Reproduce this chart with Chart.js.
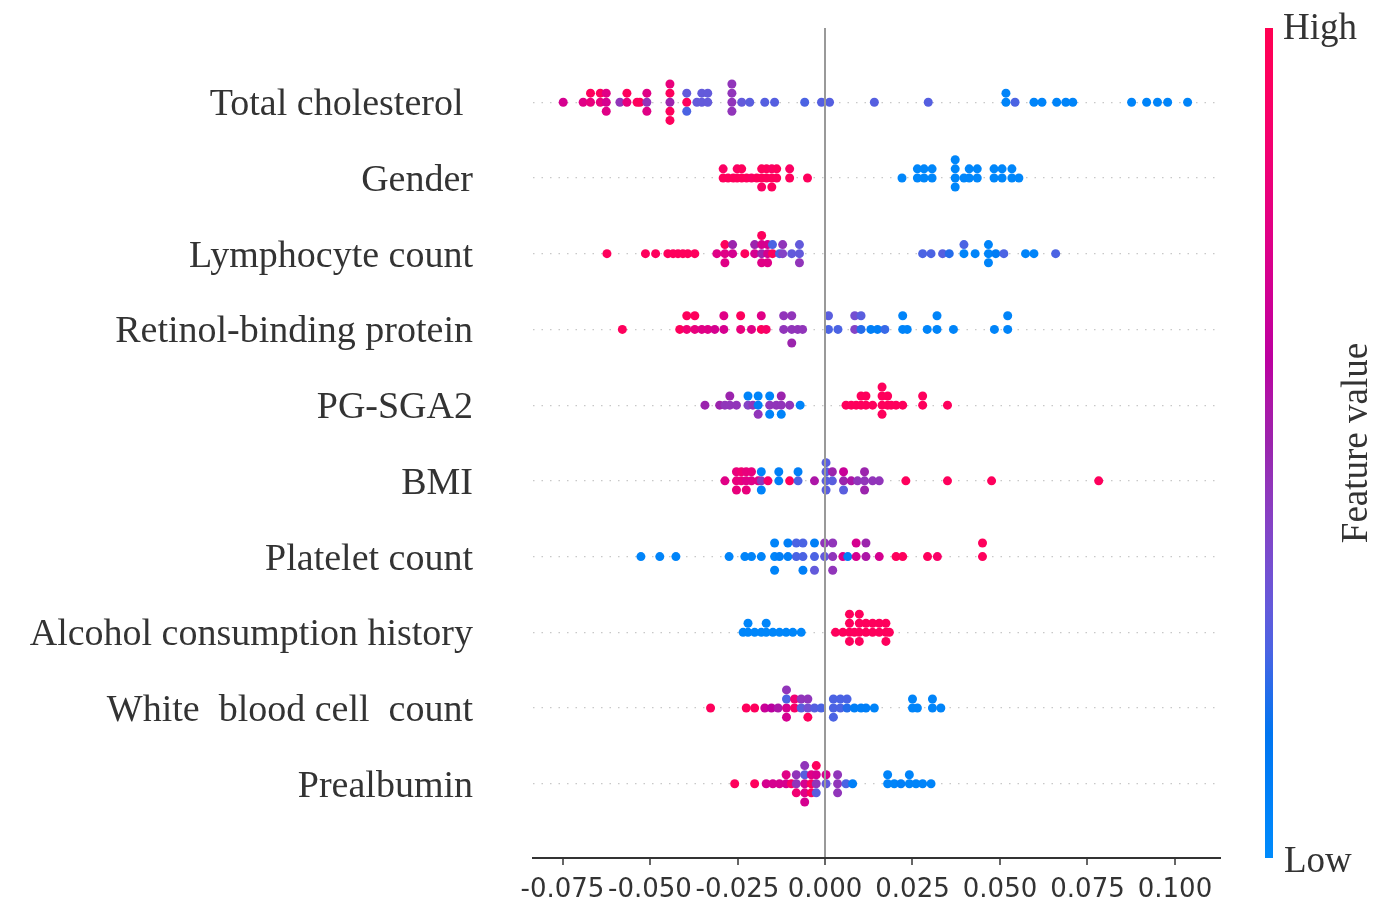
<!DOCTYPE html>
<html>
<head>
<meta charset="utf-8">
<script src="https://cdn.jsdelivr.net/npm/chart.js@4"></script>
<style>
  body { margin: 0; background: #fff; }
  #wrap { width: 1392px; height: 912px; }
</style>
</head>
<body>
<div id="wrap"><canvas id="shapChart"></canvas></div>
<script>
// feature names, top to bottom
const features = ['Total cholesterol ', 'Gender', 'Lymphocyte count', 'Retinol-binding protein', 'PG-SGA2',
  'BMI', 'Platelet count', 'Alcohol consumption history', 'White  blood cell  count', 'Prealbumin'];
const xTicks = [-0.075, -0.05, -0.025, 0, 0.025, 0.05, 0.075, 0.1];

// SHAP values per sample (equal values stack into one column) and normalised feature values (0 low .. 1 high)
const cholShap = [-0.0748, -0.0691, -0.0670, -0.0670, -0.0642, -0.0642, -0.0625, -0.0625, -0.0625, -0.0586,
  -0.0566, -0.0566, -0.0537, -0.0529, -0.0509, -0.0509, -0.0509, -0.0443, -0.0443, -0.0443, -0.0443, -0.0443,
  -0.0395, -0.0395, -0.0395, -0.0366, -0.0352, -0.0352, -0.0335, -0.0335, -0.0266, -0.0266, -0.0266, -0.0266,
  -0.0238, -0.0215, -0.0172, -0.0144, -0.0058, -0.0010, 0.0013, 0.0141, 0.0295, 0.0517, 0.0517, 0.0543,
  0.0597, 0.0620, 0.0662, 0.0688, 0.0708, 0.0876, 0.0919, 0.0950, 0.0979, 0.1036];
const cholValue = [0.7, 0.75, 0.8, 0.95, 0.8, 0.95, 0.7, 0.75, 0.75, 0.45,
  0.8, 0.95, 0.95, 0.95, 0.45, 0.75, 0.75, 0.5, 0.95, 0.95, 0.8, 0.95,
  0.95, 0.3, 0.25, 0.3, 0.3, 0.3, 0.3, 0.3, 0.45, 0.45, 0.45, 0.45,
  0.3, 0.28, 0.27, 0.27, 0.25, 0.27, 0.27, 0.27, 0.27, 0.05, 0.05, 0.25,
  0.05, 0.05, 0.05, 0.05, 0.05, 0.05, 0.05, 0.05, 0.05, 0.05];

const genderShap = [-0.0291, -0.0291, -0.0277, -0.0262, -0.0251, -0.0251, -0.0238, -0.0238, -0.0224, -0.0210,
  -0.0195, -0.0181, -0.0181, -0.0181, -0.0167, -0.0167, -0.0152, -0.0152, -0.0152, -0.0138, -0.0138,
  -0.0101, -0.0101, -0.0050, 0.0220, 0.0264, 0.0264, 0.0283, 0.0283, 0.0306, 0.0306, 0.0372, 0.0372,
  0.0372, 0.0372, 0.0397, 0.0412, 0.0412, 0.0435, 0.0435, 0.0483, 0.0483, 0.0506, 0.0506, 0.0534, 0.0534, 0.0554];
const genderValue = [0.95, 0.92, 0.95, 0.95, 0.95, 0.92, 0.95, 0.95, 0.95, 0.92,
  0.95, 0.95, 0.95, 0.92, 0.95, 0.95, 0.95, 0.92, 0.95, 0.95, 0.95,
  0.95, 0.92, 0.95, 0.03, 0.03, 0.03, 0.03, 0.03, 0.03, 0.03, 0.03, 0.03,
  0.03, 0.03, 0.03, 0.03, 0.03, 0.03, 0.03, 0.03, 0.03, 0.03, 0.03, 0.03, 0.03, 0.03];

const lymphShap = [-0.0623, -0.0513, -0.0484, -0.0449, -0.0434, -0.0420, -0.0406, -0.0392, -0.0372, -0.0309,
  -0.0286, -0.0286, -0.0286, -0.0264, -0.0264, -0.0229, -0.0201, -0.0201, -0.0181, -0.0181, -0.0181, -0.0181,
  -0.0164, -0.0164, -0.0164, -0.0150, -0.0150, -0.0130, -0.0121, -0.0121, -0.0095, -0.0073, -0.0073, -0.0073,
  0.0279, 0.0303, 0.0336, 0.0355, 0.0397, 0.0397, 0.0429, 0.0467, 0.0467, 0.0467, 0.0488, 0.0511,
  0.0573, 0.0597, 0.0659];
const lymphValue = [0.95, 0.95, 0.95, 0.95, 0.95, 0.95, 0.95, 0.95, 0.95, 0.75,
  0.75, 0.95, 0.75, 0.7, 0.5, 0.95, 0.7, 0.5, 0.5, 0.7, 0.75, 0.95,
  0.7, 0.7, 0.75, 0.95, 0.25, 0.25, 0.4, 0.45, 0.3, 0.3, 0.3, 0.45,
  0.25, 0.25, 0.27, 0.2, 0.05, 0.25, 0.05, 0.05, 0.05, 0.05, 0.1, 0.25,
  0.05, 0.05, 0.25];

const retinolShap = [-0.0579, -0.0415, -0.0395, -0.0395, -0.0372, -0.0372, -0.0352, -0.0335, -0.0315,
  -0.0289, -0.0289, -0.0241, -0.0241, -0.0210, -0.0182, -0.0182, -0.0168, -0.0118, -0.0118,
  -0.0095, -0.0095, -0.0095, -0.0078, -0.0064, 0.0010, 0.0010, 0.0037, 0.0085, 0.0085, 0.0103, 0.0103,
  0.0131, 0.0150, 0.0171, 0.0222, 0.0222, 0.0235, 0.0292, 0.0320, 0.0320, 0.0367, 0.0484, 0.0522, 0.0522];
const retinolValue = [0.95, 0.95, 0.85, 0.95, 0.8, 0.95, 0.75, 0.75, 0.7,
  0.7, 0.75, 0.8, 0.95, 0.75, 0.95, 0.75, 0.9, 0.45, 0.45,
  0.45, 0.45, 0.5, 0.45, 0.45, 0.25, 0.28, 0.25, 0.4, 0.35, 0.2, 0.28,
  0.08, 0.08, 0.22, 0.05, 0.05, 0.05, 0.05, 0.05, 0.05, 0.05, 0.05, 0.05, 0.05];

const pgsgaShap = [-0.0343, -0.0301, -0.0286, -0.0272, -0.0272, -0.0253, -0.0220, -0.0220, -0.0206,
  -0.0191, -0.0191, -0.0191, -0.0158, -0.0158, -0.0158, -0.0139, -0.0125, -0.0125, -0.0125, -0.0101, -0.0071,
  0.0060, 0.0075, 0.0089, 0.0103, 0.0103, 0.0117, 0.0117, 0.0136, 0.0163, 0.0163, 0.0163, 0.0163,
  0.0179, 0.0179, 0.0189, 0.0203, 0.0222, 0.0279, 0.0279, 0.0350];
const pgsgaValue = [0.5, 0.5, 0.45, 0.45, 0.5, 0.45, 0.4, 0.05, 0.45,
  0.08, 0.05, 0.45, 0.45, 0.05, 0.05, 0.45, 0.45, 0.5, 0.05, 0.45, 0.05,
  0.95, 0.95, 0.95, 0.95, 0.95, 0.95, 0.95, 0.95, 0.95, 0.95, 0.95, 0.95,
  0.95, 0.95, 0.95, 0.95, 0.95, 0.95, 0.95, 0.95];

const bmiShap = [-0.0286, -0.0253, -0.0253, -0.0253, -0.0239, -0.0239, -0.0225, -0.0225, -0.0225,
  -0.0210, -0.0210, -0.0191, -0.0182, -0.0182, -0.0182, -0.0163, -0.0132, -0.0132, -0.0101, -0.0077, -0.0077,
  -0.0030, 0.0003, 0.0003, 0.0003, 0.0003, 0.0021, 0.0021, 0.0053, 0.0053, 0.0053, 0.0075, 0.0093,
  0.0113, 0.0113, 0.0113, 0.0136, 0.0155, 0.0231, 0.0350, 0.0476, 0.0782];
const bmiValue = [0.75, 0.8, 0.8, 0.8, 0.8, 0.85, 0.75, 0.8, 0.8,
  0.75, 0.8, 0.75, 0.45, 0.05, 0.05, 0.88, 0.08, 0.08, 0.95, 0.25, 0.08,
  0.55, 0.28, 0.28, 0.28, 0.28, 0.28, 0.5, 0.5, 0.65, 0.28, 0.55, 0.45,
  0.45, 0.5, 0.5, 0.45, 0.45, 0.95, 0.95, 0.95, 0.95];

const plateletShap = [-0.0526, -0.0472, -0.0426, -0.0274, -0.0229, -0.0210, -0.0182, -0.0144, -0.0144, -0.0144,
  -0.0130, -0.0106, -0.0106, -0.0082, -0.0082, -0.0063, -0.0063, -0.0063, -0.0030, -0.0030, -0.0030,
  -0.0001, -0.0001, 0.0022, 0.0022, 0.0022, 0.0051, 0.0065, 0.0089, 0.0089, 0.0117, 0.0117,
  0.0155, 0.0203, 0.0222, 0.0293, 0.0321, 0.0450, 0.0450];
const plateletValue = [0.05, 0.05, 0.05, 0.05, 0.05, 0.05, 0.05, 0.05, 0.05, 0.05,
  0.08, 0.08, 0.08, 0.25, 0.25, 0.25, 0.25, 0.08, 0.25, 0.08, 0.3,
  0.3, 0.45, 0.45, 0.45, 0.45, 0.7, 0.08, 0.7, 0.7, 0.55, 0.5,
  0.7, 0.95, 0.95, 0.95, 0.9, 0.95, 0.95];

const alcoholShap = [-0.0234, -0.0220, -0.0220, -0.0201, -0.0182, -0.0168, -0.0168, -0.0149, -0.0130, -0.0111,
  -0.0092, -0.0068, 0.0030, 0.0051, 0.0070, 0.0070, 0.0070, 0.0070, 0.0084, 0.0098, 0.0098, 0.0098, 0.0098,
  0.0117, 0.0117, 0.0136, 0.0136, 0.0155, 0.0155, 0.0174, 0.0174, 0.0174, 0.0184];
const alcoholValue = [0.03, 0.03, 0.03, 0.03, 0.03, 0.03, 0.03, 0.03, 0.03, 0.03,
  0.03, 0.03, 0.95, 0.95, 0.95, 0.95, 0.95, 0.95, 0.95, 0.95, 0.95, 0.95, 0.95,
  0.95, 0.95, 0.95, 0.95, 0.95, 0.95, 0.95, 0.95, 0.95, 0.95];

const wbcShap = [-0.0327, -0.0225, -0.0201, -0.0172, -0.0153, -0.0134, -0.0110, -0.0110, -0.0110, -0.0110,
  -0.0087, -0.0087, -0.0068, -0.0068, -0.0049, -0.0049, -0.0049, -0.0030, -0.0011, 0.0024, 0.0024, 0.0024,
  0.0044, 0.0044, 0.0063, 0.0063, 0.0084, 0.0103, 0.0117, 0.0141, 0.0250, 0.0250, 0.0264, 0.0307, 0.0307, 0.0331];
const wbcValue = [0.95, 0.95, 0.95, 0.65, 0.6, 0.55, 0.7, 0.25, 0.7, 0.45,
  0.9, 0.85, 0.28, 0.45, 0.35, 0.45, 0.95, 0.27, 0.25, 0.25, 0.25, 0.25,
  0.25, 0.25, 0.2, 0.25, 0.08, 0.08, 0.08, 0.05, 0.05, 0.05, 0.05, 0.05, 0.05, 0.05];

const prealbShap = [-0.0258, -0.0201, -0.0168, -0.0149, -0.0130, -0.0111, -0.0111, -0.0096, -0.0082, -0.0082,
  -0.0082, -0.0058, -0.0058, -0.0058, -0.0058, -0.0058, -0.0039, -0.0039, -0.0039, -0.0025, -0.0025,
  -0.0025, -0.0025, 0.0003, 0.0003, 0.0036, 0.0036, 0.0036, 0.0060, 0.0079, 0.0179, 0.0179, 0.0198,
  0.0217, 0.0241, 0.0241, 0.0260, 0.0279, 0.0303];
const prealbValue = [0.95, 0.95, 0.7, 0.7, 0.7, 0.7, 0.75, 0.9, 0.45, 0.45,
  0.85, 0.7, 0.28, 0.75, 0.45, 0.7, 0.95, 0.75, 0.95, 0.45, 0.7,
  0.28, 0.95, 0.3, 0.7, 0.45, 0.45, 0.45, 0.25, 0.08, 0.05, 0.05, 0.05,
  0.08, 0.05, 0.05, 0.05, 0.05, 0.05];

const rows = [
  [cholShap, cholValue], [genderShap, genderValue], [lymphShap, lymphValue], [retinolShap, retinolValue],
  [pgsgaShap, pgsgaValue], [bmiShap, bmiValue], [plateletShap, plateletValue], [alcoholShap, alcoholValue],
  [wbcShap, wbcValue], [prealbShap, prealbValue]
];

// shap red_blue colormap (LCH blend from blue to red)
function shapColor(t) {
  const L = t < 0.5 ? 54 - 28 * t : 40 + 28 * (t - 0.5);
  const C = 70 + 20 * t;
  const H = 4.6588 + (0.35470565 + 2 * Math.PI - 4.6588) * t;
  const a = C * Math.cos(H), b = C * Math.sin(H);
  const fy = (L + 16) / 116, fx = fy + a / 500, fz = fy - b / 200;
  const finv = f => f > 6 / 29 ? f * f * f : 3 * (6 / 29) * (6 / 29) * (f - 4 / 29);
  const X = 0.95047 * finv(fx), Y = finv(fy), Z = 1.08883 * finv(fz);
  const lin = [3.2406 * X - 1.5372 * Y - 0.4986 * Z,
    -0.9689 * X + 1.8758 * Y + 0.0415 * Z,
    0.0557 * X - 0.2040 * Y + 1.0570 * Z];
  const [r, g, bl] = lin.map(v => {
    v = v <= 0.0031308 ? 12.92 * v : 1.055 * Math.pow(Math.max(v, 0), 1 / 2.4) - 0.055;
    return Math.round(255 * Math.min(1, Math.max(0, v)));
  });
  return 'rgb(' + r + ',' + g + ',' + bl + ')';
}

// beeswarm offsets like shap: equal values stack 0, +1, -1, +2, -2 ...
function swarm(xs) {
  const order = xs.map((x, i) => i).sort((i, j) => xs[i] - xs[j] || i - j);
  const layers = new Array(xs.length);
  let last = null, layer = 0;
  order.forEach(i => {
    if (xs[i] !== last) layer = 0;
    layers[i] = Math.ceil(layer / 2) * (layer % 2 ? 1 : -1);
    layer++;
    last = xs[i];
  });
  const top = Math.max(...layers) + 1;
  return layers.map(l => l * 0.9 * 0.4 / top);
}

const datasets = rows.map(([xs, vs], row) => {
  const off = swarm(xs);
  return {
    label: features[row],
    data: xs.map((x, i) => ({ x: x, y: row - off[i] })),
    pointBackgroundColor: vs.map(shapColor),
    pointBorderWidth: 0,
    pointRadius: 4.5
  };
});

const colorBar = {
  id: 'colorBar',
  afterDraw(chart) {
    const { ctx, chartArea } = chart;
    const top = chartArea.top, bottom = chartArea.bottom;
    const x = chartArea.right + 45;
    const grad = ctx.createLinearGradient(0, top, 0, bottom);
    for (let i = 0; i <= 20; i++) grad.addColorStop(i / 20, shapColor(1 - i / 20));
    ctx.save();
    ctx.fillStyle = grad;
    ctx.fillRect(x, top, 8, bottom - top);
    ctx.fillStyle = '#333';
    ctx.font = '37px "Liberation Serif"';
    ctx.textAlign = 'left';
    ctx.textBaseline = 'alphabetic';
    ctx.fillText('High', x + 18, 39);
    ctx.fillText('Low', x + 19, 872);
    ctx.translate(x + 92, (top + bottom) / 2);
    ctx.rotate(-Math.PI / 2);
    ctx.textAlign = 'center';
    ctx.textBaseline = 'middle';
    ctx.fillText('Feature value', 0, 0);
    ctx.restore();
  }
};

new Chart(document.getElementById('shapChart'), {
  type: 'scatter',
  data: { datasets: datasets },
  plugins: [colorBar],
  options: {
    responsive: true,
    maintainAspectRatio: false,
    animation: false,
    events: [],
    layout: { padding: { top: 28, right: 172, left: 0, bottom: 0 } },
    plugins: { legend: { display: false }, tooltip: { enabled: false } },
    scales: {
      x: {
        type: 'linear',
        min: -0.08343,
        max: 0.11286,
        afterBuildTicks: s => { s.ticks = xTicks.map(v => ({ value: v })); },
        afterFit: s => { s.height = 54; },
        ticks: {
          autoSkip: false,
          maxRotation: 0,
          padding: 10,
          color: '#333',
          font: { family: 'DejaVu Sans', size: 26 },
          callback: v => v.toFixed(3)
        },
        grid: {
          z: 1,
          color: c => (c.tick && c.tick.value === 0 ? '#999' : 'rgba(0,0,0,0)'),
          lineWidth: 2,
          tickLength: 7,
          tickColor: '#333',
          tickWidth: 1.5
        },
        border: { display: true, color: '#333', width: 2, z: 1 }
      },
      y: {
        type: 'linear',
        reverse: true,
        min: -0.98,
        max: 9.98,
        afterBuildTicks: s => { s.ticks = features.map((f, i) => ({ value: i })); },
        afterFit: s => { s.width = 533; s.paddingTop = 0; s.paddingBottom = 0; },
        ticks: {
          autoSkip: false,
          padding: 60,
          labelOffset: 3,
          color: '#333',
          font: { family: 'Liberation Serif', size: 38 },
          callback: v => features[v]
        },
        grid: { color: '#c8c8c8', lineWidth: 1.2, drawTicks: false },
        border: { display: false, dash: [1.5, 7] }
      }
    }
  }
});
</script>
</body>
</html>
